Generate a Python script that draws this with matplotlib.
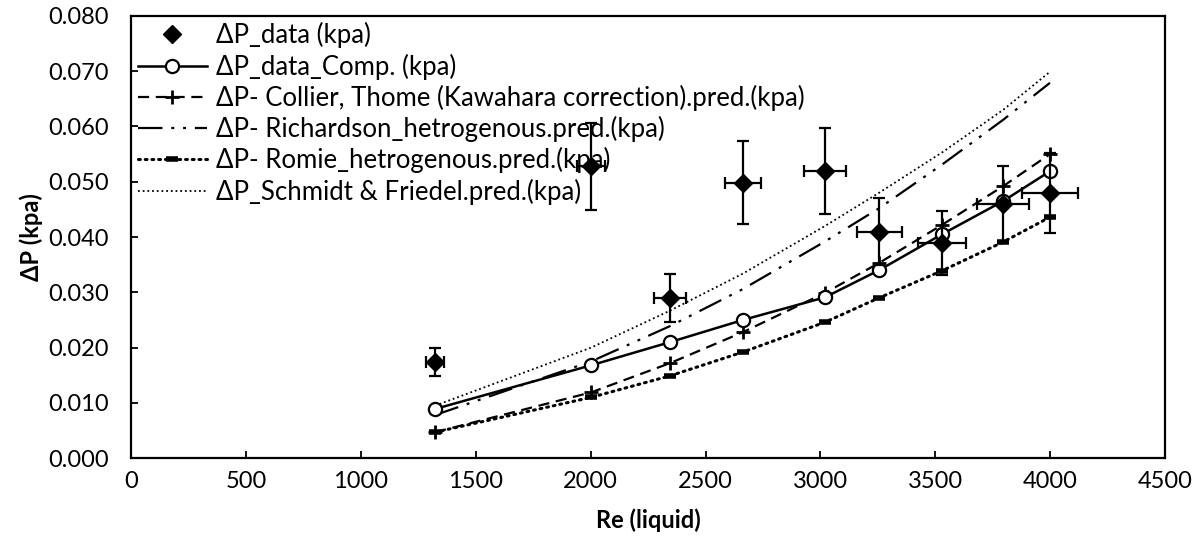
import numpy as np
import matplotlib.pyplot as plt

plt.rcParams['font.family'] = ['Lato', 'DejaVu Sans']

# Re (liquid) of each measurement
re = [1323, 2002, 2346, 2663, 3020, 3255, 3529, 3795, 3999]

# measured pressure drop and its error bars
dp_data = [0.0174, 0.0528, 0.0290, 0.0498, 0.0519, 0.0410, 0.0389, 0.0460, 0.0480]
dp_err = [0.0026, 0.0079, 0.0043, 0.0075, 0.0078, 0.0061, 0.0058, 0.0069, 0.0072]
re_err = [40, 60, 70, 80, 91, 98, 106, 114, 120]

dp_comp = [0.0089, 0.0168, 0.0210, 0.0250, 0.0291, 0.0340, 0.0405, 0.0465, 0.0519]
dp_collier = [0.0047, 0.0119, 0.0172, 0.0228, 0.0299, 0.0353, 0.0422, 0.0492, 0.0550]
dp_richardson = [0.0078, 0.0175, 0.0239, 0.0306, 0.0392, 0.0452, 0.0531, 0.0612, 0.0679]
dp_romie = [0.0047, 0.0110, 0.0149, 0.0192, 0.0246, 0.0290, 0.0339, 0.0391, 0.0436]
dp_schmidt = [0.0095, 0.0200, 0.0267, 0.0334, 0.0420, 0.0480, 0.0553, 0.0630, 0.0699]

labels = ["ΔP_data (kpa)",
          "ΔP_data_Comp. (kpa)",
          "ΔP- Collier, Thome (Kawahara correction).pred.(kpa)",
          "ΔP- Richardson_hetrogenous.pred.(kpa)",
          "ΔP- Romie_hetrogenous.pred.(kpa)",
          "ΔP_Schmidt & Friedel.pred.(kpa)"]

fig = plt.figure(figsize=(11.98, 5.5), dpi=100)
ax = fig.add_axes([0.1095, 0.167, 0.863, 0.804])

ax.plot(re, dp_schmidt, color="black", lw=1.3, linestyle=(0, (1, 1.6)), label=labels[5], zorder=2)
ax.plot(re, dp_richardson, color="black", lw=1.6, linestyle=(0, (11, 4, 1.3, 4, 1.3, 4)), label=labels[3], zorder=2)
ax.plot(re, dp_romie, color="black", lw=2.2, linestyle=(0, (0.6, 1.6)), dash_capstyle="round",
        marker="_", markersize=9, mew=4, label=labels[4], zorder=3)
ax.plot(re, dp_collier, color="black", lw=1.6, linestyle=(0, (5, 3)),
        marker="+", markersize=10, mew=2, label=labels[2], zorder=3)
ax.plot(re, dp_comp, color="black", lw=1.8, marker="o", markersize=9.5, mew=1.6,
        markerfacecolor="white", label=labels[1], zorder=4)

ax.errorbar(re, dp_data, yerr=dp_err, xerr=re_err, fmt="none", ecolor="black",
            elinewidth=1.6, capsize=4, capthick=1.6, zorder=5)
ax.plot(re, dp_data, "D", color="black", markersize=9.5, label=labels[0], zorder=6)

ax.set_xlim(0, 4500)
ax.set_ylim(0, 0.08)
ax.set_xticks(np.arange(0, 4501, 500))
ax.set_yticks(np.arange(0, 0.0801, 0.01))
ax.set_yticklabels(["%.3f" % v for v in np.arange(0, 0.0801, 0.01)])
ax.tick_params(axis="both", direction="in", length=5, width=1.3, labelsize=17)
ax.tick_params(axis="y", pad=16)
ax.tick_params(axis="x", pad=9)
for s in ax.spines.values():
    s.set_linewidth(1.6)

ax.set_xlabel("Re (liquid)", fontsize=17, fontweight="bold", labelpad=12)
ax.set_ylabel("ΔP (kpa)", fontsize=17, fontweight="bold", labelpad=4)

handles, lbls = ax.get_legend_handles_labels()
order = [lbls.index(l) for l in labels]
ax.legend([handles[i] for i in order], [lbls[i] for i in order],
          loc="upper left", bbox_to_anchor=(0.0, 1.0), frameon=False,
          fontsize=18.5, handlelength=2.7, handletextpad=0.35,
          labelspacing=0.2, borderaxespad=0.1, borderpad=0.15)

fig.savefig("out.png", dpi=100)
